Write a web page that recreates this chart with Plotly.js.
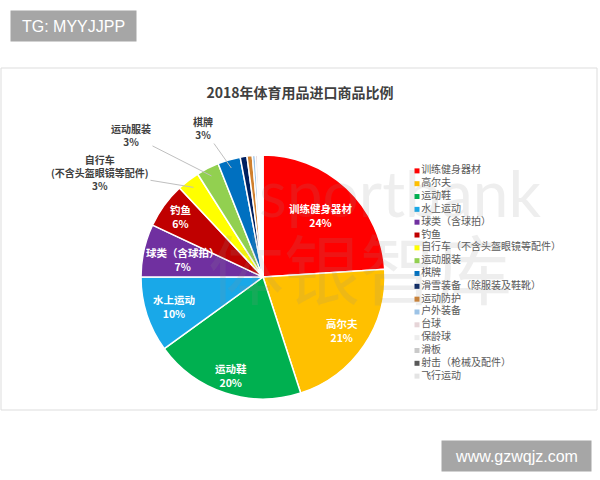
<!DOCTYPE html>
<html>
<head>
<meta charset="utf-8">
<script src="https://cdn.plot.ly/plotly-3.0.1.min.js"></script>
<style>html,body{margin:0;padding:0;background:#fff;}#chart{width:600px;height:480px;}</style>
</head>
<body>
<div id="chart"></div>
<script>
// ---- data ----
const categories = ['训练健身器材','高尔夫','运动鞋','水上运动','球类（含球拍）','钓鱼','自行车（不含头盔眼镜等配件）','运动服装','棋牌','滑雪装备（除服装及鞋靴）','运动防护','户外装备','台球','保龄球','滑板','射击（枪械及配件）','飞行运动'];
const shares = [24,21,20,10,7,6,3,3,3,0.9,0.7,0.4,0.3,0.2,0.2,0.2,0.1];
const sliceLabels = ['训练健身器材','高尔夫','运动鞋','水上运动','球类（含球拍）','钓鱼','自行车<br>(不含头盔眼镜等配件)','运动服装','棋牌','','','','','','','',''];
const pctLabels = ['24%','21%','20%','10%','7%','6%','3%','3%','3%','','','','','','','',''];
const colors = ['#FF0000','#FFC000','#00B050','#19A8E8','#7030A0','#C00000','#FFFF00','#92D050','#0070C0','#002060','#D0802E','#9DC3E6','#E6D5D8','#EDEDED','#C9C9C9','#595959','#E4E4E4'];

// ---- label placement (layout) ----
const insideIdx = [0,1,2,3,4,5];
const insideRadius = [0.69,0.78,0.845,0.77,0.67,0.84];
const outsideIdx = [6,7,8];
const outsidePos = [[100,172],[131,135],[203,128]];

const W = 600, H = 480;
const cx = 263, cy = 277, R = 122;
const CJK = '"Noto Sans CJK SC", sans-serif';

const pie = {
  type: 'pie',
  labels: categories,
  values: shares,
  textinfo: 'none',
  sort: false,
  direction: 'clockwise',
  rotation: 0,
  marker: {colors: colors, line: {color: '#ffffff', width: 1.5}},
  domain: {x: [(cx - R) / W, (cx + R) / W], y: [1 - (cy + R) / H, 1 - (cy - R) / H]},
  showlegend: false,
  hoverinfo: 'none'
};

// legend drawn as a scatter on a category axis
const legendTrace = {
  type: 'scatter',
  mode: 'markers+text',
  x: categories.map(() => 0),
  y: categories,
  text: categories,
  textposition: 'middle right',
  textfont: {family: CJK, size: 10, color: '#595959'},
  marker: {symbol: 'square', size: 5, color: colors},
  xaxis: 'x', yaxis: 'y',
  showlegend: false,
  hoverinfo: 'none',
  cliponaxis: false
};

const total = shares.reduce((a,b) => a + b, 0);
function sliceMid(i, frac) {
  let cum = 0;
  for (let k = 0; k < i; k++) cum += shares[k];
  cum += shares[i] / 2;
  const th = cum / total * 2 * Math.PI;
  return [cx + R * frac * Math.sin(th), cy - R * frac * Math.cos(th)];
}

const annotations = [];

// watermark
annotations.push({xref:'paper', yref:'paper', x: 400/W, y: 1 - 192/H, text: 'sportbank', showarrow: false,
  font: {family: 'Lato, sans-serif', size: 64, color: 'rgba(140,140,140,0.15)'}});
annotations.push({xref:'paper', yref:'paper', x: 360/W, y: 1 - 266/H, text: '体银智库', showarrow: false,
  font: {family: CJK, size: 76, color: 'rgba(140,140,140,0.15)'}});

insideIdx.forEach((idx, j) => {
  const [px, py] = sliceMid(idx, insideRadius[j]);
  annotations.push({
    xref: 'paper', yref: 'paper', x: px / W, y: 1 - py / H, xanchor: 'center', yanchor: 'middle',
    text: '<b>' + sliceLabels[idx] + '<br>' + pctLabels[idx] + '</b>', showarrow: false,
    font: {family: CJK, size: 10.5, color: '#ffffff'}, align: 'center'
  });
});

outsideIdx.forEach((idx, j) => {
  const [px, py] = sliceMid(idx, 0.93);
  const [lx, ly] = outsidePos[j];
  annotations.push({
    xref: 'paper', yref: 'paper',
    x: px / W, y: 1 - py / H,
    ax: lx - px, ay: ly - py,
    text: '<b>' + sliceLabels[idx] + '<br>' + pctLabels[idx] + '</b>',
    showarrow: true, arrowhead: 0, arrowwidth: 1, arrowcolor: '#BFBFBF', standoff: 0,
    font: {family: CJK, size: 10, color: '#404040'},
    align: 'center'
  });
});

// corner tags
annotations.push({xref:'paper', yref:'paper', x: 10/W, y: 1 - 10/H, xanchor:'left', yanchor:'top',
  text: 'TG: MYYJJPP', showarrow: false, bgcolor: '#A6A6A6', width: 125, height: 30, borderpad: 0,
  font: {family: '"Liberation Sans", Arial, sans-serif', size: 16, color: '#ffffff'}});
annotations.push({xref:'paper', yref:'paper', x: 441/W, y: 1 - 440/H, xanchor:'left', yanchor:'top',
  text: 'www.gzwqjz.com', showarrow: false, bgcolor: '#A6A6A6', width: 149, height: 30, borderpad: 0,
  font: {family: '"Liberation Sans", Arial, sans-serif', size: 16, color: '#ffffff'}});

const layout = {
  width: W, height: H,
  margin: {l: 0, r: 0, t: 0, b: 0},
  paper_bgcolor: '#ffffff',
  plot_bgcolor: 'rgba(0,0,0,0)',
  title: {text: '<b>2018年体育用品进口商品比例</b>', x: 0.5, xanchor: 'center', y: 1 - 93/H, yanchor: 'middle',
    font: {family: CJK, size: 14, color: '#404040'}},
  xaxis: {domain: [417/W, 1], range: [0, 1], visible: false, fixedrange: true},
  yaxis: {domain: [1 - 391/H, 1 - 156/H], type: 'category', autorange: 'reversed', visible: false, fixedrange: true},
  shapes: [{type: 'rect', xref: 'paper', yref: 'paper', x0: 1/W, x1: 597/W, y0: 1 - 410/H, y1: 1 - 68/H,
    line: {color: '#DDDDDD', width: 1}, fillcolor: 'rgba(0,0,0,0)', layer: 'below'}],
  annotations: annotations
};

Plotly.newPlot('chart', [pie, legendTrace], layout, {staticPlot: true, displayModeBar: false});
</script>
</body>
</html>
